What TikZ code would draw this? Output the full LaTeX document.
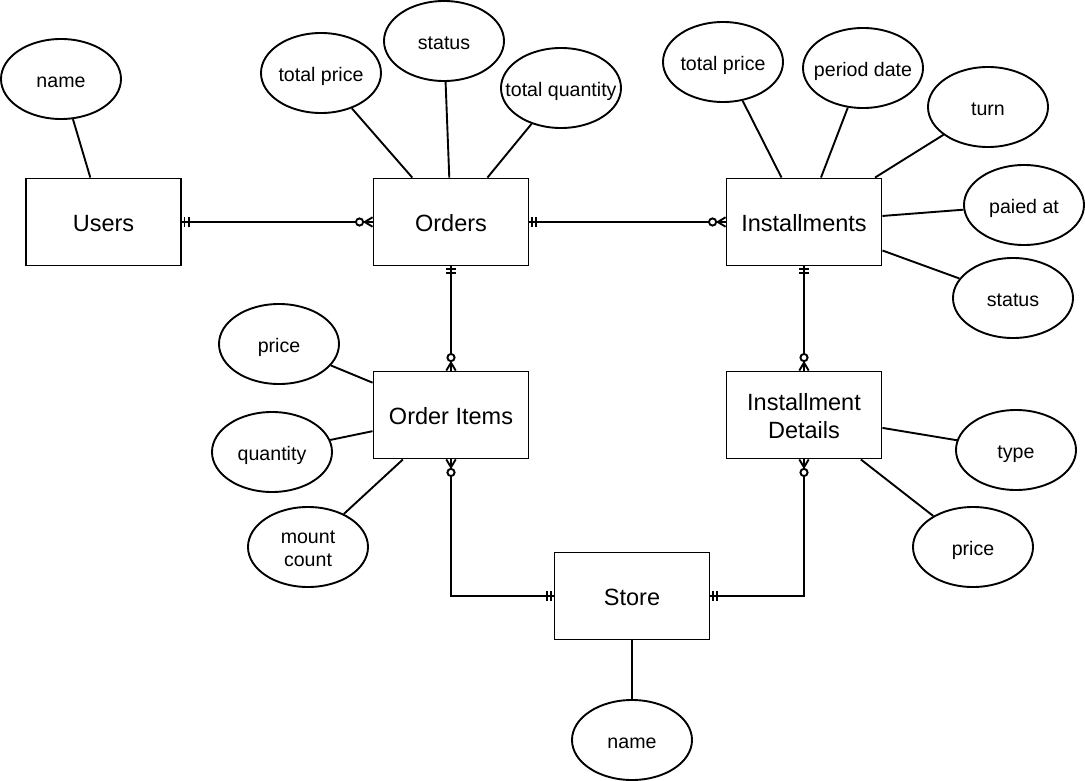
\documentclass[tikz,border=0pt]{standalone}
\usepackage{fontspec}
\setmainfont{Liberation Sans}
\usetikzlibrary{shapes.geometric,decorations.markings}

\begin{document}
\begin{tikzpicture}[x=1bp,y=-1bp,line width=1.9bp,
  entity/.style={draw,minimum width=155bp,minimum height=87bp,inner sep=0pt,align=center,text height=20.2bp,text depth=0.9bp,font=\fontsize{23.5bp}{27.5bp}\selectfont},
  attr/.style={draw,ellipse,minimum width=120bp,minimum height=80bp,inner xsep=-15bp,inner ysep=0pt,align=center,text height=16.9bp,text depth=0.8bp,font=\fontsize{19.6bp}{23.5bp}\selectfont},
  tipline/.style={line width=1.9bp},
  onestart/.style={postaction={decorate,decoration={markings,mark=at position 0 with {\draw[tipline] (2.5bp,-4.7bp)--(2.5bp,4.7bp) (6.8bp,-4.7bp)--(6.8bp,4.7bp);}}}},
  oneend/.style={postaction={decorate,decoration={markings,mark=at position 1 with {\draw[tipline] (-2.5bp,-4.7bp)--(-2.5bp,4.7bp) (-6.8bp,-4.7bp)--(-6.8bp,4.7bp);}}}},
  zmanystart/.style={postaction={decorate,decoration={markings,mark=at position 0 with {\draw[tipline] (0,-4.7bp)--(7.8bp,0)--(0,4.7bp); \draw[tipline,fill=white] (13bp,0) circle[radius=3.6bp];}}}},
  zmanyend/.style={postaction={decorate,decoration={markings,mark=at position 1 with {\draw[tipline] (0,-4.7bp)--(-7.8bp,0)--(0,4.7bp); \draw[tipline,fill=white] (-13bp,0) circle[radius=3.6bp];}}}}]
\useasboundingbox (0,0) rectangle (1085,781);
% entities
\node[entity] (users) at (103.5,222) {Users};
\node[entity] (orders) at (451,222) {Orders};
\node[entity] (inst) at (804,222) {Installments};
\node[entity] (items) at (451,415) {Order Items};
\node[entity,text height=47.7bp] (details) at (804,415) {Installment\\Details};
\node[entity] (store) at (632,596) {Store};
% attributes
\node[attr] (uname) at (61,79) {name};
\node[attr] (ototal) at (321,73) {total price};
\node[attr] (ostatus) at (444,41) {status};
\node[attr] (oqty) at (561,88) {total quantity};
\node[attr] (itotal) at (723,62) {total price};
\node[attr] (iperiod) at (863,68) {period date};
\node[attr] (iturn) at (988,107) {turn};
\node[attr] (ipaid) at (1024,205) {paied at};
\node[attr] (istatus) at (1013,298) {status};
\node[attr] (oiprice) at (279,344) {price};
\node[attr] (oiqty) at (272,452) {quantity};
\node[attr,text height=40.4bp] (oicount) at (308,547) {mount\\count};
\node[attr] (dtype) at (1016,450) {type};
\node[attr] (dprice) at (973,547) {price};
\node[attr] (sname) at (632,740) {name};
% attribute lines
\draw (uname) -- (users);
\draw (ototal) -- (orders);
\draw (ostatus) -- (orders);
\draw (oqty) -- (orders);
\draw (itotal) -- (inst);
\draw (iperiod) -- (inst);
\draw (iturn) -- (inst);
\draw (ipaid) -- (inst);
\draw (istatus) -- (inst);
\draw (oiprice) -- (items);
\draw (oiqty) -- (items);
\draw (oicount) -- (items);
\draw (dtype) -- (details);
\draw (dprice) -- (details);
\draw (sname) -- (store);
% relations
\draw[onestart,zmanyend] (users) -- (orders);
\draw[onestart,zmanyend] (orders) -- (inst);
\draw[onestart,zmanyend] (orders) -- (items);
\draw[onestart,zmanyend] (inst) -- (details);
\draw[zmanystart,oneend] (items) |- (store);
\draw[zmanystart,oneend] (details) |- (store);
\end{tikzpicture}
\end{document}
